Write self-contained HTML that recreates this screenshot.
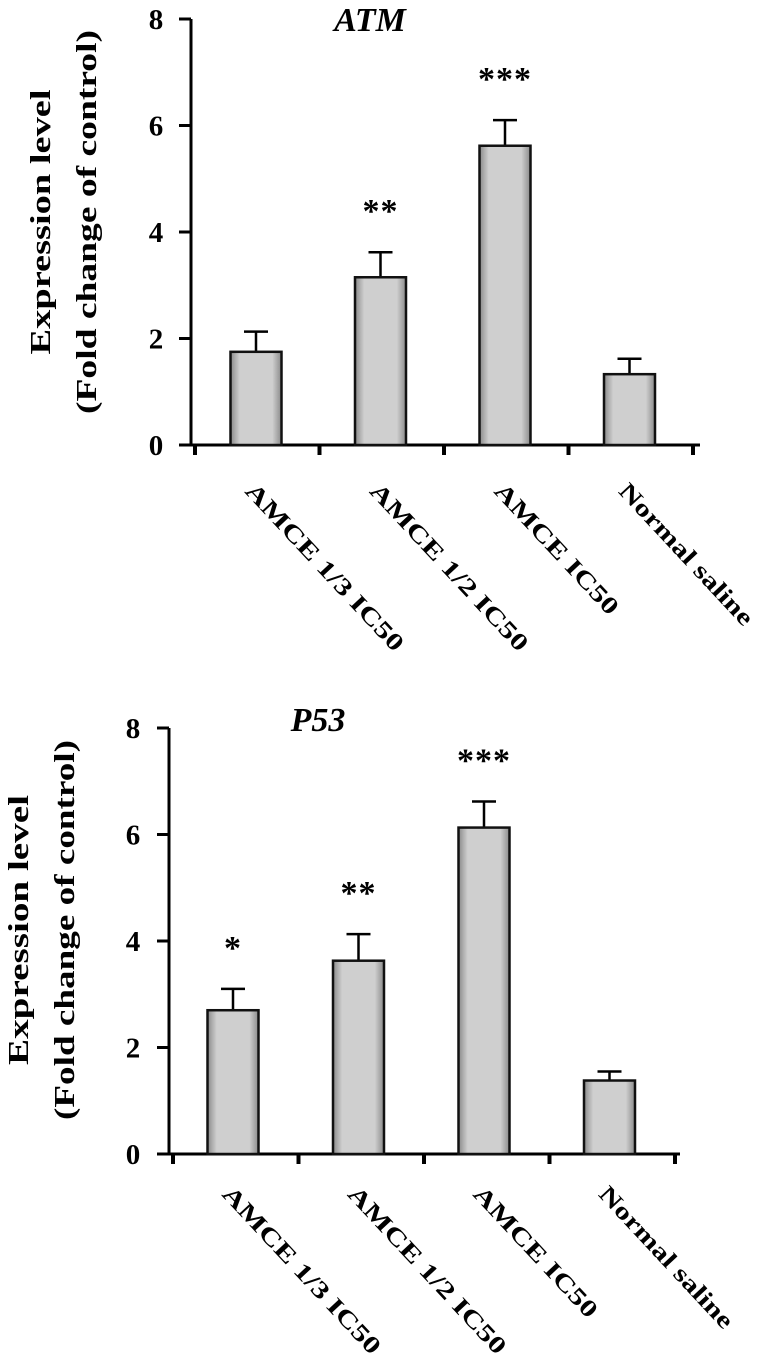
<!DOCTYPE html>
<html><head><meta charset="utf-8"><style>
html,body{margin:0;padding:0;background:#fff}
svg{display:block}
</style></head><body>
<svg id="chart" width="778" height="1364" viewBox="0 0 778 1364" xmlns="http://www.w3.org/2000/svg">
<defs>
<linearGradient id="gh" x1="0" x2="1" y1="0" y2="0">
<stop offset="0" stop-color="#8a8a8a"/><stop offset="0.18" stop-color="#cfcfcf"/><stop offset="0.82" stop-color="#cfcfcf"/><stop offset="1" stop-color="#8a8a8a"/>
</linearGradient>
</defs>
</svg>
<script>
const categories = ["AMCE 1/3 IC50","AMCE 1/2 IC50","AMCE IC50","Normal saline"];
const atmValues = [1.75, 3.15, 5.62, 1.33];
const atmErrors = [0.38, 0.47, 0.48, 0.29];
const atmStars = ["", "**", "***", ""];
const p53Values = [2.7, 3.63, 6.13, 1.38];
const p53Errors = [0.4, 0.5, 0.49, 0.17];
const p53Stars = ["*", "**", "***", ""];
const yTicks = [0, 2, 4, 6, 8];

const svg = document.getElementById('chart');
const NS = 'http://www.w3.org/2000/svg';
const FONT = 'font-family:"Liberation Serif","Times New Roman",serif;font-weight:bold;';
function mk(tag, attrs, parent){
  const e = document.createElementNS(NS, tag);
  for (const k in attrs) e.setAttribute(k, attrs[k]);
  (parent||svg).appendChild(e);
  return e;
}

function drawPanel(cfg){
  const g = mk('g', {});
  
  
  const y = v => cfg.y0 - v * (cfg.y0 - cfg.y8) / 8;
  const step = cfg.step;
  const x = i => cfg.firstBar + i * step;
  const t = mk('text', {x: cfg.titleX, y: cfg.titleY, style: FONT + 'font-size:34px;font-style:italic', 'text-anchor': 'middle'}, g);
  t.textContent = cfg.title;
  
  
  const yt = mk('g', {transform: `translate(${cfg.ytX},${cfg.ytY}) rotate(-90)`}, g);
  
  
  const l1 = mk('text', {x: 0, y: 0, style: FONT + 'font-size:28px', 'text-anchor': 'middle', textLength: cfg.l1Len, lengthAdjust: 'spacingAndGlyphs'}, yt);
  l1.textContent = 'Expression level';
  const l2 = mk('text', {x: 0, y: cfg.ytGap, style: FONT + 'font-size:28px', 'text-anchor': 'middle', textLength: cfg.l2Len, lengthAdjust: 'spacingAndGlyphs'}, yt);
  l2.textContent = '(Fold change of control)';
  const ya = mk('line', {x1: cfg.ax, y1: y(8), x2: cfg.ax, y2: y(0), stroke: '#000', 'stroke-width': 3}, g);
  
  
  const xa = mk('line', {x1: cfg.ax - 12, y1: y(0), x2: cfg.axEnd, y2: y(0), stroke: '#000', 'stroke-width': 3}, g);
  
  
  yTicks.forEach(v => {
    mk('line', {x1: cfg.ax - 12, y1: y(v), x2: cfg.ax, y2: y(v), stroke: '#000', 'stroke-width': 3}, g);
    const tl = mk('text', {x: cfg.tickLabelX, y: y(v) + 10, style: FONT + 'font-size:29px', 'text-anchor': 'middle'}, g);
    tl.textContent = v;
    
    
  });
  for (let i = 0; i <= categories.length; i++) {
    mk('line', {x1: cfg.ax + 4 + i * step, y1: y(0), x2: cfg.ax + 4 + i * step, y2: y(0) + 10, stroke: '#000', 'stroke-width': 4}, g);
  }
  cfg.values.forEach((v, i) => {
    const cx = x(i);
    const bw = 51;
    const e = mk('path', {d: `M${cx} ${y(v)} V${y(v + cfg.errors[i])} M${cx - 12} ${y(v + cfg.errors[i])} H${cx + 12}`, stroke: '#000', 'stroke-width': 2.5, fill: 'none'}, g);
    
    
    const b = mk('rect', {x: cx - bw / 2, y: y(v), width: bw, height: y(0) - y(v), fill: 'url(#gh)', stroke: '#111', 'stroke-width': 2.5}, g);
    
    
    if (cfg.stars[i]) {
      const s = mk('text', {x: cx, y: y(v + cfg.errors[i]) - 30, style: FONT + 'font-size:34px;letter-spacing:1px', 'text-anchor': 'middle'}, g);
      s.textContent = cfg.stars[i];
      
      
    }
    const lx = cfg.labelX + i * step;
    const lab = mk('text', {x: 0, y: 0, style: FONT + 'font-size:24px', transform: `translate(${lx},${cfg.labelY}) rotate(47)`, textLength: i === 3 ? 185 : (i === 2 ? 170 : 220), lengthAdjust: 'spacingAndGlyphs'}, g);
    lab.textContent = categories[i];
    
    
  });
}

drawPanel({name: 'atm-chart', title: 'ATM', titleX: 370, titleY: 31, values: atmValues, errors: atmErrors, stars: atmStars,
  y0: 445, y8: 19, ax: 191, axEnd: 700, step: 124.5, firstBar: 256, tickLabelX: 156,
  ytX: 50, ytY: 222, ytGap: 46, l1Len: 265, l2Len: 384, labelX: 244, labelY: 492});
drawPanel({name: 'p53-chart', title: 'P53', titleX: 318, titleY: 731, values: p53Values, errors: p53Errors, stars: p53Stars,
  y0: 1154, y8: 728, ax: 169, axEnd: 680, step: 125.5, firstBar: 233, tickLabelX: 133,
  ytX: 28, ytY: 930, ytGap: 46, l1Len: 270, l2Len: 380, labelX: 221, labelY: 1195});
</script>
</body></html>
